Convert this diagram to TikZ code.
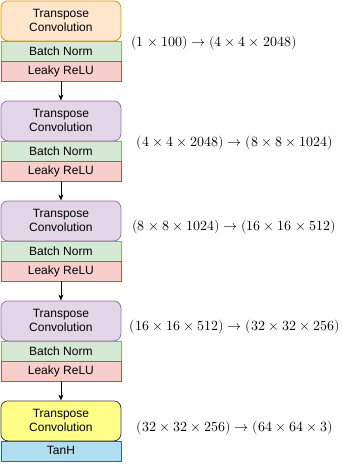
\documentclass[tikz,border=0pt]{standalone}
\usepackage{fontspec}
\setmainfont{Liberation Sans}
\usepackage{unicode-math}
\setmathfont{Latin Modern Math}
\usetikzlibrary{arrows.meta}
\definecolor{orfill}{HTML}{FFE6CC}\definecolor{ordraw}{HTML}{D79B00}
\definecolor{grfill}{HTML}{D5E8D4}\definecolor{grdraw}{HTML}{82B366}
\definecolor{rdfill}{HTML}{F8CECC}\definecolor{rddraw}{HTML}{B85450}
\definecolor{pufill}{HTML}{E1D5E7}\definecolor{pudraw}{HTML}{9673A6}
\definecolor{yefill}{HTML}{FFFF88}\definecolor{yedraw}{HTML}{36393D}
\definecolor{blfill}{HTML}{B1DDF0}\definecolor{bldraw}{HTML}{10739E}
\tikzset{
  box/.style={draw, line width=0.8pt, minimum width=120pt, inner sep=0pt, anchor=north west,
    align=center, font=\fontsize{12}{14}\selectfont},
  conv/.style={box, rounded corners=7pt, minimum height=40pt},
  thin/.style={box, minimum height=20pt},
  bn/.style={thin, fill=grfill, draw=grdraw},
  lr/.style={thin, fill=rdfill, draw=rddraw},
  arr/.style={-{Stealth[length=6pt,width=5pt]}, line width=0.8pt},
  lab/.style={font=\fontsize{14}{16}\selectfont, inner sep=0pt}
}
\begin{document}
\begin{tikzpicture}[x=1pt,y=-1pt]
\useasboundingbox (0,0) rectangle (342,471);
% block 1
\node[conv, fill=orfill, draw=ordraw] (c1) at (0.5,0.5) {Transpose\\Convolution};
\node[bn] (b1) at (0.5,40.5) {Batch Norm};
\node[lr] (l1) at (0.5,60.5) {Leaky ReLU};
% block 2
\node[conv, fill=pufill, draw=pudraw] (c2) at (0.5,100.5) {Transpose\\Convolution};
\node[bn] (b2) at (0.5,140.5) {Batch Norm};
\node[lr] (l2) at (0.5,160.5) {Leaky ReLU};
% block 3
\node[conv, fill=pufill, draw=pudraw] (c3) at (0.5,200.5) {Transpose\\Convolution};
\node[bn] (b3) at (0.5,240.5) {Batch Norm};
\node[lr] (l3) at (0.5,260.5) {Leaky ReLU};
% block 4
\node[conv, fill=pufill, draw=pudraw] (c4) at (0.5,300.5) {Transpose\\Convolution};
\node[bn] (b4) at (0.5,340.5) {Batch Norm};
\node[lr] (l4) at (0.5,360.5) {Leaky ReLU};
% block 5
\node[conv, fill=yefill, draw=yedraw] (c5) at (0.5,400.5) {Transpose\\Convolution};
\node[thin, fill=blfill, draw=bldraw] (t5) at (0.5,440.5) {TanH};
% arrows
\draw[arr] (l1.south) -- (c2.north);
\draw[arr] (l2.south) -- (c3.north);
\draw[arr] (l3.south) -- (c4.north);
\draw[arr] (l4.south) -- (c5.north);
% labels
\node[lab] (n1) at (214,43) {$(1\times100)\rightarrow(4\times4\times2048)$};
\node[lab] (n2) at (235,143) {$(4\times4\times2048)\rightarrow(8\times8\times1024)$};
\node[lab] (n3) at (234,227) {$(8\times8\times1024)\rightarrow(16\times16\times512)$};
\node[lab] (n4) at (235,327) {$(16\times16\times512)\rightarrow(32\times32\times256)$};
\node[lab] (n5) at (235,428) {$(32\times32\times256)\rightarrow(64\times64\times3)$};
\end{tikzpicture}
\end{document}
